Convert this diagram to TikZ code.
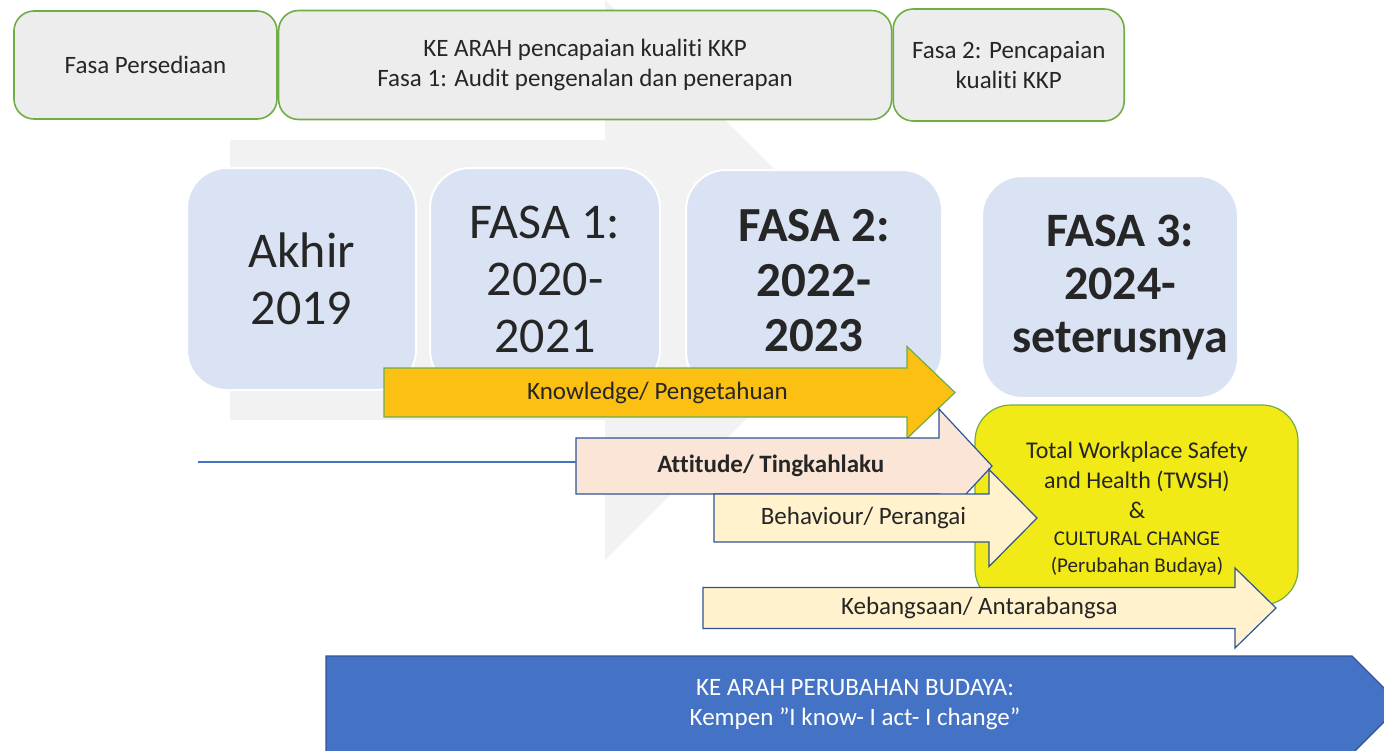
\documentclass[tikz,border=0pt]{standalone}
\usepackage{fontspec}
\setmainfont[Ligatures=NoCommon]{Carlito}
\usetikzlibrary{positioning}
\definecolor{phaseline}{HTML}{70AD47}
\definecolor{phasefill}{HTML}{EDEDED}
\definecolor{yearfill}{HTML}{DAE3F3}
\definecolor{ghost}{HTML}{F2F2F2}
\definecolor{knowfill}{HTML}{FBC012}
\definecolor{attfill}{HTML}{FBE5D6}
\definecolor{behfill}{HTML}{FFF2CC}
\definecolor{edgeblue}{HTML}{2F5597}
\definecolor{twshfill}{HTML}{F2EA16}
\definecolor{campfill}{HTML}{4472C4}
\definecolor{ink}{HTML}{262626}
\tikzset{
  phasebox/.style={draw=phaseline, line width=1.6pt, fill=phasefill, rounded corners=20pt,
    align=center, text=ink, font=\fontsize{25}{30}\selectfont, inner sep=0pt},
  yearbox/.style={draw=white, line width=2pt, fill=yearfill, rounded corners=40pt,
    align=center, text=ink, inner sep=0pt, minimum height=222pt},
  twshbox/.style={draw=phaseline, line width=1.2pt, fill=twshfill, rounded corners=36pt,
    align=center, text=ink, font=\fontsize{24}{30}\selectfont, inner sep=0pt},
  knowarrow/.style={draw=phaseline, line width=1.2pt, fill=knowfill},
  attarrow/.style={draw=edgeblue, line width=1.2pt, fill=attfill},
  beharrow/.style={draw=edgeblue, line width=1.2pt, fill=behfill},
  camparrow/.style={draw=edgeblue, line width=1.2pt, fill=campfill},
  arrowtext/.style={text=ink, font=\fontsize{25}{30}\selectfont, inner sep=0pt},
  timeline/.style={draw=campfill, line width=1.4pt}
}
\begin{document}
\begin{tikzpicture}[x=1pt, y=-1pt]
  \useasboundingbox (0,0) rectangle (1384,750);
  \clip (0,0) rectangle (1384,750);
  % faint arrow behind the years
  \fill[ghost] (230,140) -- (605,140) -- (605,0) -- (885,280) -- (605,560)
    -- (605,420) -- (230,420) -- cycle;
  % phases on top
  \node[phasebox, minimum width=263pt, minimum height=108pt] (persediaan) at (145.5,65) {Fasa Persediaan};
  \node[phasebox, minimum width=613pt, minimum height=109pt, right=0pt of persediaan] (kearah)
    {KE ARAH pencapaian kualiti KKP\\Fasa 1: Audit pengenalan dan penerapan};
  \node[phasebox, minimum width=231pt, minimum height=112pt, right=0pt of kearah] (pencapaian)
    {Fasa 2: Pencapaian\\kualiti KKP};
  % year blocks
  \node[yearbox, minimum width=229pt, font=\fontsize{50}{57}\selectfont] (akhir) at (301.5,279) {Akhir\\2019};
  \node[yearbox, minimum width=230pt, font=\fontsize{50}{57}\selectfont] (fasa1) at (545,279) {FASA 1:\\2020-\\2021};
  \node[yearbox, minimum width=256pt, font=\fontsize{49}{55}\selectfont\bfseries] (fasa2) at (814,281) {FASA 2:\\2022-\\2023};
  \node[yearbox, minimum width=256pt] (fasa3) at (1110,287) {};
  \node[align=center, text=ink, inner sep=0pt, font=\fontsize{48}{53}\selectfont\bfseries] (fasa3-text)
    at (1120,288) {FASA 3:\\2024-\\seterusnya};
  % target box
  \node[twshbox, minimum width=323pt, minimum height=200pt] (twsh) at (1136.5,505) {};
  \node[align=center, text=ink, inner sep=0pt, font=\fontsize{24}{30}\selectfont] (twsh-text) at (1137,509)
    {Total Workplace Safety\\and Health (TWSH)\\\&\\[-3pt]{\fontsize{21}{27}\selectfont CULTURAL CHANGE}\\[-3pt]{\fontsize{21}{27}\selectfont (Perubahan Budaya)}};
  % learning arrows
  \foreach \nm/\xt/\xh/\xp/\yc/\hs/\hh/\sty/\txt in {
      know/384/907/955/392.5/24.5/46/knowarrow/{Knowledge/ Pengetahuan},
      att/576/939/992/466/28/57/attarrow/{\textbf{Attitude/ Tingkahlaku}},
      beh/714/989/1037/518/24/48.5/beharrow/{Behaviour/ Perangai},
      keb/703/1235/1276/608/20.5/40/beharrow/{Kebangsaan/ Antarabangsa}} {
    \pgfmathsetmacro{\xc}{(\xt+(\xh+\xp)/2)/2}
    \draw[\sty] (\xt,\yc-\hs) -- (\xh,\yc-\hs) -- (\xh,\yc-\hh) -- (\xp,\yc)
      -- (\xh,\yc+\hh) -- (\xh,\yc+\hs) -- (\xt,\yc+\hs) -- cycle;
    \coordinate (\nm-tail) at (\xt,\yc);
    \node[arrowtext] (\nm) at (\xc,\yc) {\txt};
  }
  \coordinate (linestart) at (198,462);
  \draw[timeline] (linestart) -- (linestart -| att-tail);
  % campaign
  \draw[camparrow] (326,656) -- (1352,656) -- (1401,705) -- (1352,754) -- (326,754) -- cycle;
  \node[arrowtext, text=white, align=center] (kempen) at (855,705)
    {KE ARAH PERUBAHAN BUDAYA:\\Kempen ”I know- I act- I change”};
\end{tikzpicture}
\end{document}
